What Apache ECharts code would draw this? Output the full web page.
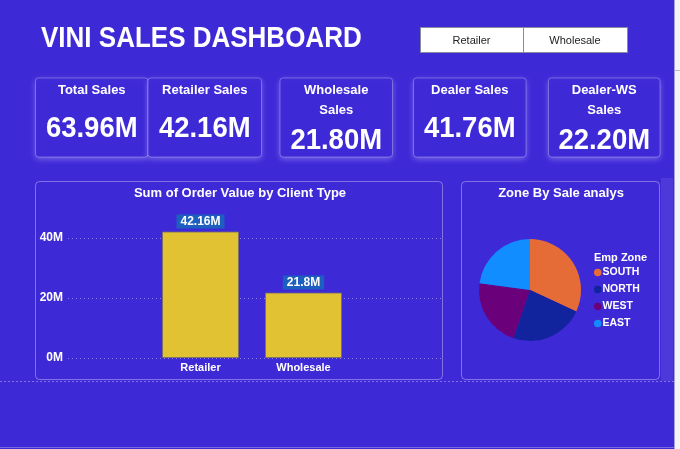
<!DOCTYPE html>
<html><head><meta charset="utf-8">
<script src="https://cdn.jsdelivr.net/npm/echarts@6/dist/echarts.min.js"></script>
<style>html,body{margin:0;padding:0;background:#fff}#c{width:680px;height:449px}</style>
</head><body><div id="c"></div>
<script>
// ---- data ----
const dashTitle = 'VINI SALES DASHBOARD';
const slicerItems = ['Retailer', 'Wholesale'];
const kpiTitles = [['Total Sales'], ['Retailer Sales'], ['Wholesale', 'Sales'], ['Dealer Sales'], ['Dealer-WS', 'Sales']];
const kpiValues = ['63.96M', '42.16M', '21.80M', '41.76M', '22.20M'];
const barTitle = 'Sum of Order Value by Client Type';
const clientTypes = ['Retailer', 'Wholesale'];
const orderValues = [42.16, 21.8]; // millions
const yTicks = [0, 20, 40];
const pieTitle = 'Zone By Sale analys';
const legendTitle = 'Emp Zone';
const zones = ['SOUTH', 'NORTH', 'WEST', 'EAST'];
const zoneValues = [20.4, 14.97, 13.94, 14.65];
const zoneColors = ['#E66C37', '#12239E', '#6B007B', '#118DFF'];

// ---- layout ----
const BG = '#3e29d7';
const F = '"Liberation Sans", Arial, sans-serif';
const cards = [[35.5, 112.5], [148, 113.5], [280, 112.5], [413.5, 112.5], [548.5, 111.5]];
const g = [];
// cards
cards.forEach((c, i) => {
  g.push({type: 'rect', shape: {x: c[0], y: 78, width: c[1], height: 79, r: 3},
    style: {fill: BG, stroke: 'rgba(255,255,255,0.28)', lineWidth: 1,
      shadowColor: 'rgba(190,180,255,0.45)', shadowBlur: 6, shadowOffsetY: 2}});
  const cx = c[0] + c[1] / 2;
  const t = kpiTitles[i];
  t.forEach((line, j) => g.push({type: 'text', style: {text: line, x: cx, y: 90 + j * 20, align: 'center', verticalAlign: 'middle',
    font: 'bold 13px ' + F, fill: '#fff'}}));
  g.push({type: 'text', x: cx, y: t.length > 1 ? 141 : 129, scaleY: 1.05,
    style: {text: kpiValues[i], x: 0, y: 0, align: 'center', verticalAlign: 'middle', font: 'bold 27.5px ' + F, fill: '#fff'}});
});
// title
g.push({type: 'text', x: 41, y: 39, scaleY: 1.1,
  style: {text: dashTitle, x: 0, y: 0, verticalAlign: 'middle', font: 'bold 26px ' + F, fill: '#fff'}});
// slicer
[[420, 103], [523, 104]].forEach((b, i) => {
  g.push({type: 'rect', shape: {x: b[0] + 0.5, y: 27.5, width: b[1], height: 25}, style: {fill: '#fff', stroke: '#8a8a9a', lineWidth: 1}});
  g.push({type: 'text', style: {text: slicerItems[i], x: b[0] + b[1] / 2, y: 41, align: 'center', verticalAlign: 'middle', font: '11px ' + F, fill: '#222'}});
});
// panels
g.push({type: 'rect', z: -1, shape: {x: 35.5, y: 181.5, width: 407, height: 198, r: 4}, style: {fill: BG, stroke: 'rgba(255,255,255,0.35)', lineWidth: 1}});
g.push({type: 'rect', z: -1, shape: {x: 461.5, y: 181.5, width: 198, height: 198, r: 4}, style: {fill: BG, stroke: 'rgba(255,255,255,0.35)', lineWidth: 1}});
g.push({type: 'rect', z: -2, shape: {x: 661, y: 178, width: 12, height: 203}, style: {fill: 'rgba(255,255,255,0.08)'}});
g.push({type: 'text', style: {text: barTitle, x: 240, y: 193, align: 'center', verticalAlign: 'middle', font: 'bold 13px ' + F, fill: '#fff'}});
g.push({type: 'text', style: {text: pieTitle, x: 561, y: 193, align: 'center', verticalAlign: 'middle', font: 'bold 13px ' + F, fill: '#fff'}});
g.push({type: 'text', style: {text: legendTitle, x: 594, y: 258, verticalAlign: 'middle', font: 'bold 11px ' + F, fill: '#fff'}});
// dotted separator & edges
g.push({type: 'line', shape: {x1: 0, y1: 381.5, x2: 674, y2: 381.5}, style: {stroke: 'rgba(255,255,255,0.35)', lineWidth: 1, lineDash: [2, 2]}});
g.push({type: 'rect', shape: {x: 674, y: 0, width: 6, height: 449}, style: {fill: '#f4f4f8'}});
g.push({type: 'line', shape: {x1: 674.5, y1: 0, x2: 674.5, y2: 449}, style: {stroke: '#a8a0d8', lineWidth: 1}});
g.push({type: 'line', shape: {x1: 675, y1: 70.5, x2: 680, y2: 70.5}, style: {stroke: '#bbb', lineWidth: 1}});
g.push({type: 'line', shape: {x1: 0, y1: 447.5, x2: 674, y2: 447.5}, style: {stroke: 'rgba(255,255,255,0.3)', lineWidth: 1}});

const chart = echarts.init(document.getElementById('c'), null, {renderer: 'canvas'});
chart.setOption({
  backgroundColor: BG,
  animation: false,
  graphic: {elements: g},
  grid: [
    {left: 68, width: 374, top: 238, height: 120},
    {left: 149, width: 206, top: 208, height: 150}
  ],
  xAxis: [
    {gridIndex: 0, type: 'value', min: 0, max: 1, show: false},
    {gridIndex: 1, type: 'category', data: clientTypes, axisLine: {show: false}, axisTick: {show: false},
      axisLabel: {color: '#fff', fontWeight: 'bold', fontSize: 11, fontFamily: F, margin: 4}}
  ],
  yAxis: [
    {gridIndex: 0, type: 'value', min: yTicks[0], max: yTicks[yTicks.length - 1], interval: 20,
      axisLine: {show: false}, axisTick: {show: false},
      axisLabel: {formatter: '{value}M', color: '#fff', fontWeight: 'bold', fontSize: 12, fontFamily: F, margin: 5},
      splitLine: {lineStyle: {color: 'rgba(200,200,255,0.55)', type: [1, 3]}}},
    {gridIndex: 1, type: 'value', min: 0, max: 50, show: false}
  ],
  legend: {orient: 'vertical', left: 594, top: 266.5, padding: 0, icon: 'circle', itemWidth: 7.5, itemHeight: 7.5, itemGap: 5,
    data: zones, textStyle: {color: '#fff', fontWeight: 'bold', fontSize: 10.5, fontFamily: F, lineHeight: 12, padding: [0, 0, 0, -4]}},
  series: [
    {type: 'bar', xAxisIndex: 1, yAxisIndex: 1, data: orderValues, barWidth: 77,
      itemStyle: {color: '#e1c232', borderColor: 'rgba(120,110,100,0.8)', borderWidth: 1},
      label: {show: true, position: 'top', distance: 3, formatter: p => p.value + 'M', color: '#fff', fontWeight: 'bold',
        fontSize: 12, fontFamily: F, backgroundColor: '#1d5fbf', padding: [1, 4], lineHeight: 12}},
    {type: 'pie', center: [530, 290], radius: 51, startAngle: 90, label: {show: false}, labelLine: {show: false},
      data: zones.map((z, i) => ({name: z, value: zoneValues[i], itemStyle: {color: zoneColors[i]}}))}
  ]
});
</script></body></html>
